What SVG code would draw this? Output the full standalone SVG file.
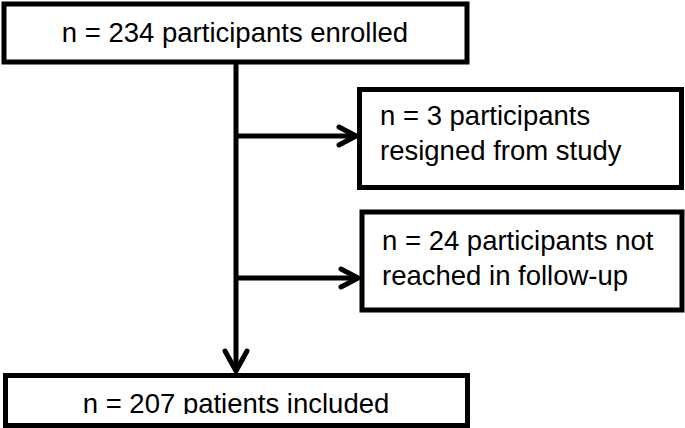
<svg xmlns="http://www.w3.org/2000/svg" width="685" height="428" viewBox="0 0 685 428">
<style>
.box{fill:#fff;stroke:#000;stroke-width:5}
.t{font-family:"Liberation Sans",Arial,sans-serif;font-size:27.5px;fill:#000}
.c{fill:none;stroke:#000;stroke-width:5}
.h{fill:none;stroke:#000;stroke-width:5;stroke-linecap:round;stroke-linejoin:round}
</style>
<defs>
<clipPath id="clipB"><rect x="0" y="370" width="685" height="44"/></clipPath>
</defs>
<rect width="685" height="428" fill="#fff"/>
<g id="connectors">
<line class="c" x1="236" y1="62" x2="236" y2="370"/>
<line class="c" x1="236" y1="136" x2="354" y2="136"/>
<polyline class="h" points="339,127 356,136 339,145"/>
<line class="c" x1="236" y1="278" x2="356" y2="278"/>
<polyline class="h" points="341,269 358,278 341,287"/>
<polyline class="h" points="225,351 236,371 247,351"/>
</g>
<g id="n1">
<rect class="box" x="4" y="4" width="463" height="58"/>
<text class="t" x="235" y="42" text-anchor="middle">n = 234 participants enrolled</text>
</g>
<g id="n2">
<rect class="box" x="359.5" y="89.5" width="322" height="98"/>
<text class="t" x="380" y="125">n = 3 participants</text>
<text class="t" x="380" y="160">resigned from study</text>
</g>
<g id="n3">
<rect class="box" x="362" y="212" width="320" height="98"/>
<text class="t" x="382" y="250">n = 24 participants not</text>
<text class="t" x="382" y="285">reached in follow-up</text>
</g>
<g id="n4">
<rect class="box" x="5.5" y="375.5" width="462" height="50"/>
<text class="t" x="236" y="413" text-anchor="middle" clip-path="url(#clipB)">n = 207 patients included</text>
</g>
</svg>
